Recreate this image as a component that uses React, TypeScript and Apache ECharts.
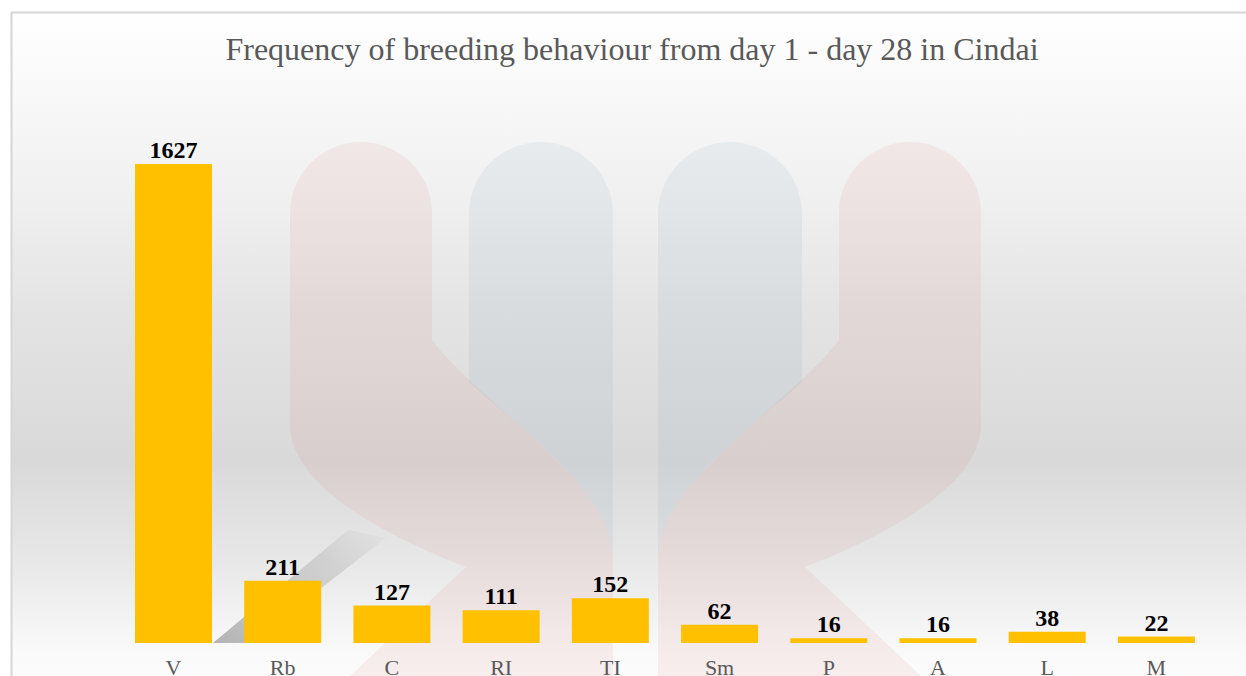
import React, { useEffect, useRef } from "react";
import * as echarts from "echarts";

const titleText = "Frequency of breeding behaviour from day 1 - day 28 in Cindai";
const categories = ["V", "Rb", "C", "RI", "TI", "Sm", "P", "A", "L", "M"];
const frequencies = [1627, 211, 127, 111, 152, 62, 16, 16, 38, 22];

const SERIF = "'Liberation Serif', 'Times New Roman', 'DejaVu Serif', serif";

function ribbonPath(m: (x: number) => number) {
  const p = (x: number, y: number) => `${m(x)},${y}`;
  const sweep = m(0) === 0 ? 1 : 0;
  return [
    `M${p(290, 213)}`,
    `A71,71 0 0 ${sweep} ${p(432, 213)}`,
    `L${p(432, 340)}`,
    `C${p(462, 382)} ${p(555, 448)} ${p(590, 498)}`,
    `C${p(606, 522)} ${p(613, 540)} ${p(613, 562)}`,
    `L${p(613, 676)}`,
    `L${p(350, 676)}`,
    `L${p(466, 567)}`,
    `C${p(370, 530)} ${p(290, 480)} ${p(290, 425)}`,
    "Z",
  ].join(" ");
}

function pillarPath(m: (x: number) => number) {
  const p = (x: number, y: number) => `${m(x)},${y}`;
  const sweep = m(0) === 0 ? 1 : 0;
  return [
    `M${p(469, 214)}`,
    `A72,72 0 0 ${sweep} ${p(613, 214)}`,
    `L${p(613, 562)}`,
    `C${p(613, 540)} ${p(606, 522)} ${p(590, 498)}`,
    `C${p(560, 455)} ${p(500, 410)} ${p(469, 382)}`,
    "Z",
  ].join(" ");
}

const id = (x: number) => x;
const mir = (x: number) => 1271 - x;

echarts.graphic.registerShape("ribbonL", echarts.graphic.extendPath(ribbonPath(id), {}));
echarts.graphic.registerShape("ribbonR", echarts.graphic.extendPath(ribbonPath(mir), {}));
echarts.graphic.registerShape("pillarL", echarts.graphic.extendPath(pillarPath(id), {}));
echarts.graphic.registerShape("pillarR", echarts.graphic.extendPath(pillarPath(mir), {}));

export default function App() {
  const ref = useRef<HTMLDivElement>(null);
  useEffect(() => {
    if (!ref.current) return;
    const chart = echarts.init(ref.current, undefined, { renderer: "svg" });
    const titleSize = 32;
    let titleW = 811;
    try {
      const ctx = document.createElement("canvas").getContext("2d");
      if (ctx) {
        ctx.font = `${titleSize}px ${SERIF}`;
        titleW = ctx.measureText(titleText).width;
      }
    } catch (e) {}
    const pink = "rgba(215,120,120,0.1)";
    const blue = "rgba(100,140,165,0.09)";
    const option: any = {
      animation: false,
      backgroundColor: "#ffffff",
      title: {
        text: titleText,
        left: 632 - titleW / 2 - 5,
        top: 28,
        textStyle: { fontFamily: SERIF, fontSize: titleSize, fontWeight: "normal", color: "#595959" },
      },
      graphic: [
        {
          type: "rect",
          z: -10,
          shape: { x: 11.5, y: 12.5, width: 1260, height: 700 },
          style: {
            fill: new echarts.graphic.LinearGradient(0, 0, 0, 1, [
              { offset: 0, color: "#ffffff" },
              { offset: 0.12, color: "#f8f8f8" },
              { offset: 0.28, color: "#efefef" },
              { offset: 0.42, color: "#e4e4e4" },
              { offset: 0.64, color: "#d9d9d9" },
              { offset: 0.78, color: "#e7e7e7" },
              { offset: 0.91, color: "#f9f9f9" },
              { offset: 1, color: "#ffffff" },
            ]),
            stroke: "#d6d6d6",
            lineWidth: 2,
          },
        },
        { type: "pillarL", z: -9, x: 0, y: 0, scaleX: 1, scaleY: 1, style: { fill: blue } },
        { type: "pillarR", z: -9, x: 0, y: 0, scaleX: 1, scaleY: 1, style: { fill: blue } },
        { type: "ribbonL", z: -8, x: 0, y: 0, scaleX: 1, scaleY: 1, style: { fill: pink } },
        { type: "ribbonR", z: -8, x: 0, y: 0, scaleX: 1, scaleY: 1, style: { fill: pink } },
        {
          type: "polygon",
          z: -7,
          shape: { points: [[213, 643], [250, 643], [386, 538], [348, 530]] },
          style: {
            fill: new echarts.graphic.LinearGradient(0, 1, 1, 0, [
              { offset: 0, color: "rgba(110,110,110,0.5)" },
              { offset: 0.7, color: "rgba(140,140,140,0.25)" },
              { offset: 1, color: "rgba(170,170,170,0.05)" },
            ]),
          },
        },
      ],
      grid: {
        left: 118.9,
        right: 35,
        top: 113,
        bottom: 33,
        containLabel: false,
        outerBoundsMode: "none",
      },
      xAxis: {
        type: "category",
        data: categories,
        axisLine: { show: false },
        axisTick: { show: false },
        axisLabel: { fontFamily: SERIF, fontSize: 22, color: "#595959", margin: 13 },
      },
      yAxis: {
        type: "value",
        min: 0,
        max: 1800,
        show: false,
        splitLine: { show: false },
      },
      series: [
        {
          type: "bar",
          data: frequencies,
          barWidth: 77,
          itemStyle: { color: "#FFC000" },
          label: {
            show: true,
            position: "top",
            distance: 2,
            fontFamily: SERIF,
            fontSize: 24,
            fontWeight: "bold",
            color: "#000000",
          },
        },
      ],
    };
    chart.setOption(option);
    return () => chart.dispose();
  }, []);
  return (
    <div
      ref={ref}
      style={{ position: "fixed", left: 0, top: 0, width: 1246, height: 676 }}
    />
  );
}
